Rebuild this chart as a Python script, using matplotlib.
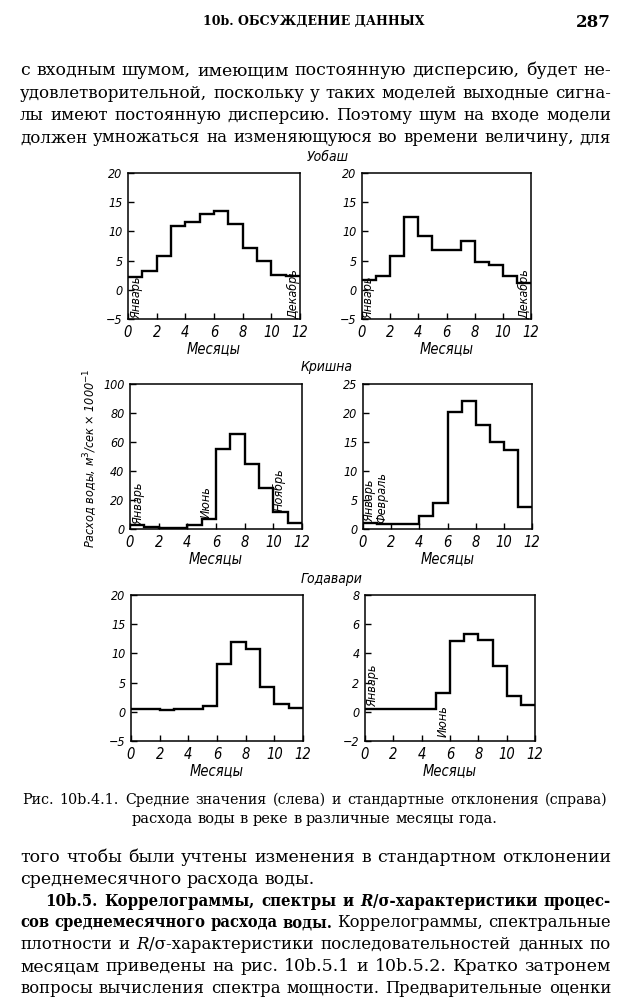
import matplotlib
matplotlib.use('Agg')
import matplotlib.pyplot as plt
import numpy as np

# ---------------- data ----------------
month_edges = list(range(0, 13))
x_ticks = [0, 2, 4, 6, 8, 10, 12]

wabash_mean = [2.2, 3.2, 5.8, 11.0, 11.6, 13.0, 13.5, 11.2, 7.2, 5.0, 2.6, 2.3]
wabash_std = [1.6, 2.4, 5.8, 12.4, 9.2, 6.9, 6.9, 8.3, 4.7, 4.2, 2.3, 1.2]
krishna_mean = [2.5, 1.6, 0.4, 0.4, 2.8, 6.7, 55.0, 65.5, 44.5, 28.0, 11.5, 4.2]
krishna_std = [1.1, 0.8, 0.8, 0.8, 2.2, 4.5, 20.1, 22.1, 17.9, 15.0, 13.6, 3.8]
godavari_mean = [0.4, 0.4, 0.3, 0.4, 0.4, 1.0, 8.1, 11.9, 10.7, 4.3, 1.4, 0.7]
godavari_std = [0.2, 0.2, 0.2, 0.2, 0.2, 1.3, 4.85, 5.3, 4.9, 3.15, 1.1, 0.5]

yt_wabash = [-5, 0, 5, 10, 15, 20]
yt_krishna_mean = [0, 20, 40, 60, 80, 100]
yt_krishna_std = [0, 5, 10, 15, 20, 25]
yt_godavari_mean = [-5, 0, 5, 10, 15, 20]
yt_godavari_std = [-2, 0, 2, 4, 6, 8]

river_names = ["Уобаш", "Кришна", "Годавари"]
xlabel_text = "Месяцы"
ylabel_text = "Расход воды, м$^3$/сек × 1000$^{-1}$"

header_text = "10b. ОБСУЖДЕНИЕ ДАННЫХ"
page_number = "287"

top_lines = [
    "с входным шумом, имеющим постоянную дисперсию, будет не-",
    "удовлетворительной, поскольку у таких моделей выходные сигна-",
    "лы имеют постоянную дисперсию. Поэтому шум на входе модели",
    "должен умножаться на изменяющуюся во времени величину, для",
]
caption_lines = [
    "Рис. 10b.4.1. Средние значения (слева) и стандартные отклонения (справа)",
    "расхода воды в реке в различные месяцы года.",
]
bottom_lines = [
    ("того чтобы были учтены изменения в стандартном отклонении", 'normal', 'just', 20),
    ("среднемесячного расхода воды.", 'normal', 'left', 20),
    ("10b.5. Коррелограммы, спектры и *R*/σ-характеристики процес-", 'bold', 'just', 45),
    ("сов среднемесячного расхода воды.| Коррелограммы, спектральные", 'mixed', 'just', 20),
    ("плотности и *R*/σ-характеристики последовательностей данных по", 'normal', 'just', 20),
    ("месяцам приведены на рис. 10b.5.1 и 10b.5.2. Кратко затронем", 'normal', 'just', 20),
    ("вопросы вычисления спектра мощности. Предварительные оценки", 'normal', 'just', 20),
]

# ---------------- figure ----------------
W, H = 629, 1000
fig = plt.figure(figsize=(W / 100, H / 100), dpi=100)
fig.patch.set_facecolor('white')
renderer = fig.canvas.get_renderer()

LBL = dict(family='DejaVu Sans', style='italic', stretch='condensed')


def fx(x):
    return x / W


def fy(y):
    return 1 - y / H


def make_axes(x0, x1, y0, y1, vals, yticks, ylim):
    ax = fig.add_axes([fx(x0), fy(y1), fx(x1 - x0), (y1 - y0) / H])
    ax.stairs(vals, month_edges, baseline=None, color='black', lw=1.7)
    ax.set_xlim(0, 12)
    ax.set_ylim(*ylim)
    ax.set_xticks(x_ticks)
    ax.set_yticks(yticks)
    ax.set_xticklabels([str(t) for t in x_ticks], fontsize=10.5, **LBL)
    ax.set_yticklabels([str(t).replace('-', '\u2212') for t in yticks], fontsize=9, **LBL)
    ax.tick_params(direction='in', length=4, width=1, pad=4)
    for s in ax.spines.values():
        s.set_linewidth(1.1)
    ax.set_xlabel(xlabel_text, fontsize=10.5, labelpad=1, **LBL)
    return ax


ax1 = make_axes(128, 300, 173, 319, wabash_mean, yt_wabash, (-5, 20))
ax2 = make_axes(362, 531, 173, 319, wabash_std, yt_wabash, (-5, 20))
ax3 = make_axes(130, 302, 384, 529, krishna_mean, yt_krishna_mean, (0, 100))
ax4 = make_axes(363, 532, 384, 529, krishna_std, yt_krishna_std, (0, 25))
ax5 = make_axes(131, 303, 595, 741, godavari_mean, yt_godavari_mean, (-5, 20))
ax6 = make_axes(365, 535, 595, 741, godavari_std, yt_godavari_std, (-2, 8))

RL = dict(rotation=90, ha='center', va='bottom', fontsize=9, **LBL)
ax1.text(0.6, -5, "Январь", **RL)
ax1.text(11.6, -5, "Декабрь", **RL)
ax2.text(0.45, -5, "Январь", **RL)
ax2.text(11.6, -5, "Декабрь", **RL)
ax3.text(0.6, 3, "Январь", **RL)
ax3.text(5.3, 7.5, "Июнь", **RL)
ax3.text(10.4, 12.5, "Ноябрь", **RL)
ax4.text(0.45, 1.2, "Январь", **RL)
ax4.text(1.35, 1.0, "Февраль", **RL)
ax6.text(0.5, 0.35, "Январь", **RL)
ax6.text(5.55, -1.75, "Июнь", **RL)

fig.text(fx(328), fy(157), river_names[0], ha='center', va='center', fontsize=10, **LBL)
fig.text(fx(327), fy(367), river_names[1], ha='center', va='center', fontsize=10, **LBL)
fig.text(fx(332), fy(579), river_names[2], ha='center', va='center', fontsize=10, **LBL)
fig.text(fx(91), fy(458), ylabel_text, rotation=90, ha='center', va='center', fontsize=9, **LBL)

# ---------------- page text ----------------
SERIF = 'DejaVu Serif'


def piece_props(italic, weight, size):
    d = dict(family=SERIF, style='italic' if italic else 'normal', weight=weight, fontsize=size)
    if weight == 'bold':
        d['stretch'] = 'condensed'
    return d


def parse_word(word, weight):
    pieces = []
    italic = False
    for part in word.split('*'):
        if part:
            pieces.append((part, italic, weight))
        italic = not italic
    return pieces


def width_of(s, props):
    t = fig.text(0, 0, s, **props)
    w = t.get_window_extent(renderer).width
    t.remove()
    return w


def word_width(pieces, size):
    return sum(width_of(s, piece_props(it, wt, size)) for s, it, wt in pieces)


def draw_line(words, x0, x1, ybase, mode, size):
    while True:
        widths = [word_width(w, size) for w in words]
        total = sum(widths)
        min_gap = 0.3 * size * 100 / 72
        if total + min_gap * (len(words) - 1) <= (x1 - x0) or size < 6:
            break
        size -= 0.25
    if mode == 'just' and len(words) > 1:
        gap = (x1 - x0 - total) / (len(words) - 1)
        x = x0
    else:
        p = piece_props(False, 'normal', size)
        gap = width_of('a a', p) - width_of('aa', p)
        full = total + gap * (len(words) - 1)
        x = x0 if mode == 'left' else (x0 + x1) / 2 - full / 2
    for w, wd in zip(words, widths):
        xx = x
        for s, it, wt in w:
            p = piece_props(it, wt, size)
            fig.text(fx(xx), fy(ybase), s, ha='left', va='baseline', **p)
            xx += width_of(s, p)
        x += wd + gap


def simple_words(line, weight):
    return [parse_word(w, weight) for w in line.split()]


BODY = 12.5
fig.text(fx(314), fy(25), header_text, ha='center', va='baseline', family=SERIF, weight='bold', fontsize=9)
fig.text(fx(611), fy(27), page_number, ha='right', va='baseline', family=SERIF, weight='bold', fontsize=12)

for i, line in enumerate(top_lines):
    draw_line(simple_words(line, 'normal'), 20, 611, 75 + i * 22.5, 'just', BODY)

CAP = 10.5
draw_line(simple_words(caption_lines[0], 'normal'), 22, 607, 804, 'just', CAP)
draw_line(simple_words(caption_lines[1], 'normal'), 22, 607, 823, 'center', CAP)

for i, (line, weight, mode, x0) in enumerate(bottom_lines):
    yb = 862 + i * 21.8
    if weight == 'mixed':
        bold_part, norm_part = line.split('|')
        words = simple_words(bold_part, 'bold') + simple_words(norm_part, 'normal')
    else:
        words = simple_words(line, weight)
    draw_line(words, x0, 611, yb, mode, BODY)

fig.savefig('out.png', dpi=100, facecolor='white')
